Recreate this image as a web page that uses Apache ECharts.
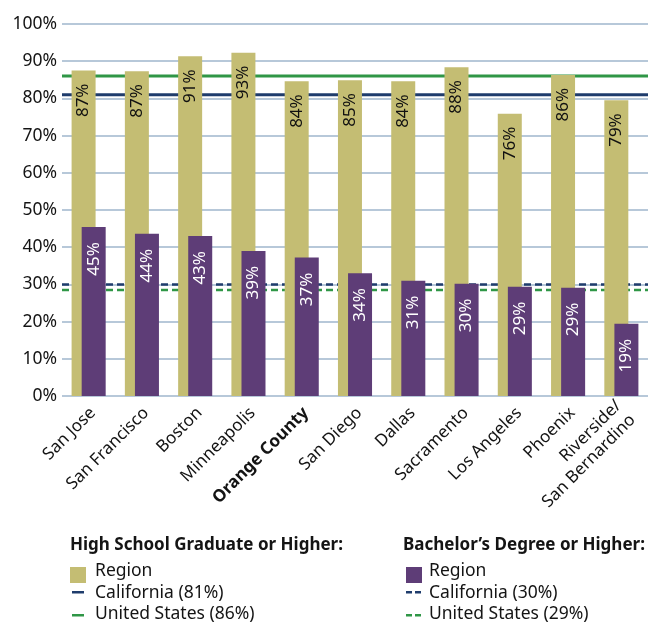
<!DOCTYPE html>
<html>
<head>
<meta charset="utf-8">
<script src="https://cdn.jsdelivr.net/npm/echarts@6/dist/echarts.min.js"></script>
<style>
  html, body { margin: 0; padding: 0; background: #fff; }
  #main { width: 654px; height: 625px; }
</style>
</head>
<body>
<div id="main"></div>
<script>
// 城市
var cities = ['San Jose', 'San Francisco', 'Boston', 'Minneapolis', 'Orange County', 'San Diego',
              'Dallas', 'Sacramento', 'Los Angeles', 'Phoenix', 'Riverside/\nSan Bernardino'];
// 高中及以上（柱高、标签）
var hsValues = [87.5, 87.3, 91.3, 92.3, 84.6, 84.9, 84.6, 88.4, 75.9, 86.3, 79.5];
var hsLabels = [87, 87, 91, 93, 84, 85, 84, 88, 76, 86, 79];
// 本科及以上
var baValues = [45.4, 43.6, 43.0, 39.0, 37.2, 33.0, 31.0, 30.2, 29.4, 29.1, 19.4];
var baLabels = [45, 44, 43, 39, 37, 34, 31, 30, 29, 29, 19];
// 参考线
var hsCalifornia = 81, hsUS = 86;
var baCalifornia = 30, baUS = 28.5;
var yTicks = [0, 10, 20, 30, 40, 50, 60, 70, 80, 90, 100];

var gold = '#c4bd73', purple = '#5e3d77', navy = '#1f3c6c', green = '#2f9646';
var font = 'Noto Sans';
var txt = '#141414';

var myChart = echarts.init(document.getElementById('main'));

function refLine(name, val, color, dashed) {
    return {
        name: name,
        type: 'line',
        xAxisIndex: 1,
        z: 2,
        symbol: 'none',
        silent: true,
        data: [[0, val], [1, val]],
        lineStyle: { color: color, width: dashed ? 2.5 : 3, type: dashed ? [7, 4] : 'solid' }
    };
}

myChart.setOption({
    animation: false,
    textStyle: { fontFamily: font },
    grid: { left: 62, right: 6, top: 24, height: 372 },
    xAxis: [{
        type: 'category',
        data: cities,
        axisLine: { show: false },
        axisTick: { show: false },
        axisLabel: {
            interval: 0,
            rotate: 45,
            fontSize: 17,
            lineHeight: 20,
            color: txt,
            margin: 10,
            padding: [12, 0, 0, 0],
            formatter: function (v) {
                return v === 'Orange County' ? '{b|' + v + '}' : v;
            },
            rich: { b: { fontWeight: 'bold', fontSize: 17, color: txt } }
        }
    }, {
        type: 'value',
        min: 0, max: 1,
        show: false
    }],
    yAxis: {
        type: 'value',
        min: yTicks[0],
        max: yTicks[yTicks.length - 1],
        interval: 10,
        axisLine: { show: false },
        axisTick: { show: false },
        axisLabel: { formatter: '{value}%', fontSize: 17.5, color: txt, margin: 5 },
        splitLine: { lineStyle: { color: '#9fb6cc', width: 1.5 } }
    },
    series: [
        refLine('CA HS', hsCalifornia, navy, false),
        refLine('US HS', hsUS, green, false),
        refLine('CA BA', baCalifornia, navy, true),
        refLine('US BA', baUS, green, true),
        {
            name: 'High School',
            type: 'bar',
            z: 3,
            barWidth: 24,
            barGap: '-58%',
            itemStyle: { color: gold },
            data: hsValues,
            label: {
                show: true,
                position: 'insideTop',
                rotate: 90,
                align: 'right',
                verticalAlign: 'middle',
                distance: 13,
                fontSize: 17,
                color: '#111',
                formatter: function (p) { return hsLabels[p.dataIndex] + '%'; }
            }
        },
        {
            name: 'Bachelor',
            type: 'bar',
            z: 3,
            barWidth: 24,
            itemStyle: { color: purple },
            data: baValues,
            label: {
                show: true,
                position: 'insideTop',
                rotate: 90,
                align: 'right',
                verticalAlign: 'middle',
                distance: 15,
                fontSize: 17,
                color: '#fff',
                formatter: function (p) { return baLabels[p.dataIndex] + '%'; }
            }
        }
    ],
    // 图例
    graphic: [
        { type: 'text', left: 70, top: 537, style: { text: 'High School Graduate or Higher:', font: 'bold 17px "' + font + '"', fill: txt } },
        { type: 'rect', left: 70, top: 567, shape: { width: 16, height: 16 }, style: { fill: gold } },
        { type: 'text', left: 95, top: 562, style: { text: 'Region', font: '17.5px "' + font + '"', fill: txt } },
        { type: 'rect', left: 72, top: 591, shape: { width: 12, height: 2.5 }, style: { fill: navy } },
        { type: 'text', left: 95, top: 584, style: { text: 'California (81%)', font: '17.5px "' + font + '"', fill: txt } },
        { type: 'rect', left: 72, top: 614, shape: { width: 12, height: 2.5 }, style: { fill: green } },
        { type: 'text', left: 95, top: 605, style: { text: 'United States (86%)', font: '17.5px "' + font + '"', fill: txt } },

        { type: 'text', left: 403, top: 537, style: { text: 'Bachelor\u2019s Degree or Higher:', font: 'bold 17px "' + font + '"', fill: txt } },
        { type: 'rect', left: 406, top: 567, shape: { width: 16, height: 16 }, style: { fill: purple } },
        { type: 'text', left: 429, top: 562, style: { text: 'Region', font: '17.5px "' + font + '"', fill: txt } },
        { type: 'rect', left: 406, top: 591, shape: { width: 6, height: 2.5 }, style: { fill: navy } },
        { type: 'rect', left: 415, top: 591, shape: { width: 6, height: 2.5 }, style: { fill: navy } },
        { type: 'text', left: 429, top: 584, style: { text: 'California (30%)', font: '17.5px "' + font + '"', fill: txt } },
        { type: 'rect', left: 406, top: 614, shape: { width: 6, height: 2.5 }, style: { fill: green } },
        { type: 'rect', left: 415, top: 614, shape: { width: 6, height: 2.5 }, style: { fill: green } },
        { type: 'text', left: 429, top: 605, style: { text: 'United States (29%)', font: '17.5px "' + font + '"', fill: txt } }
    ]
});
</script>
</body>
</html>
